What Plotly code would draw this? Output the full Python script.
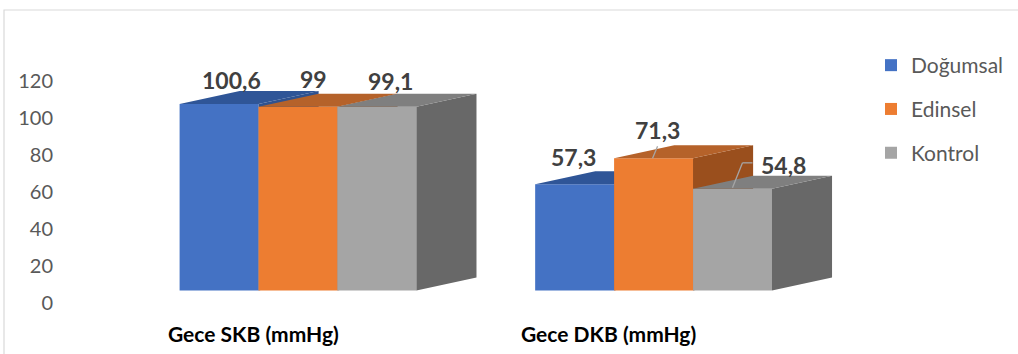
import plotly.graph_objects as go

# --- data -------------------------------------------------------------
categories = ["Gece SKB (mmHg)", "Gece DKB (mmHg)"]
series_names = ["Doğumsal", "Edinsel", "Kontrol"]
dogumsal = [100.6, 57.3]
edinsel = [99.0, 71.3]
kontrol = [99.1, 54.8]
y_ticks = [0, 20, 40, 60, 80, 100, 120]

series_values = [dogumsal, edinsel, kontrol]

# --- styling ----------------------------------------------------------
FONT = "Lato"
front_colors = ["#4472C4", "#ED7D31", "#A5A5A5"]
top_colors = ["#2F5597", "#B5622A", "#7F7F7F"]
side_colors = ["#2F528F", "#9A4F1D", "#686868"]

BAR_W = 0.222      # width of one bar (category units)
DEPTH_X = 0.169    # horizontal shift of the back face
DEPTH_Y = 7.0      # vertical shift of the back face (value units)

X_RANGE = [-0.675, 2.025]
TICK_RANGE = [-27.96, 164.22]
BAR_RANGE = [-34.23, 156.6]


def fmt(v):
    return f"{v:g}".replace(".", ",")


fig = go.Figure()
xs = list(range(len(categories)))

# value axis (carries the tick labels only)
fig.add_trace(go.Scatter(x=[], y=[], xaxis="x", yaxis="y",
                         showlegend=False, hoverinfo="skip"))

for k, (name, vals) in enumerate(zip(series_names, series_values)):
    xa, ya = f"x{k + 2}", f"y{k + 2}"
    off = (k - 1.5) * BAR_W

    # front faces
    fig.add_trace(go.Bar(
        x=xs, y=vals, width=BAR_W, offset=off, name=name, legendgroup=name,
        marker=dict(color=front_colors[k], line=dict(width=0)),
        xaxis=xa, yaxis=ya, hoverinfo="skip",
    ))

    # right-hand side faces and top faces of the blocks
    sx, sy, tx, ty = [], [], [], []
    for xi, v in zip(xs, vals):
        xl = xi + off
        xr = xl + BAR_W
        sx += [xr, xr + DEPTH_X, xr + DEPTH_X, xr, xr, None]
        sy += [0, DEPTH_Y, v + DEPTH_Y, v, 0, None]
        tx += [xl, xr, xr + DEPTH_X, xl + DEPTH_X, xl, None]
        ty += [v, v, v + DEPTH_Y, v + DEPTH_Y, v, None]
    fig.add_trace(go.Scatter(
        x=sx, y=sy, fill="toself", fillcolor=side_colors[k], mode="lines",
        line=dict(width=0, color=side_colors[k]), showlegend=False,
        xaxis=xa, yaxis=ya, hoverinfo="skip",
    ))
    fig.add_trace(go.Scatter(
        x=tx, y=ty, fill="toself", fillcolor=top_colors[k], mode="lines",
        line=dict(width=0, color=top_colors[k]), showlegend=False,
        xaxis=xa, yaxis=ya, hoverinfo="skip",
    ))

# --- value labels -----------------------------------------------------
label_shift = {
    (0, 0): (12, 24), (0, 1): (15, 28), (0, 2): (14, 26),
    (1, 0): (-1, 27), (1, 1): (4, 28), (1, 2): (51, 24),
}
annotations = []
shapes = []
for k, vals in enumerate(series_values):
    off = (k - 1.5) * BAR_W
    for i, v in enumerate(vals):
        cx = xs[i] + off + BAR_W / 2
        dxp, dyp = label_shift[(i, k)]
        annotations.append(dict(
            x=cx, y=v, xref=f"x{k + 2}", yref=f"y{k + 2}", text=fmt(v),
            showarrow=False, xshift=dxp, yshift=dyp,
            xanchor="center", yanchor="middle",
            font=dict(family=FONT, size=23, color="#404040", weight="bold"),
        ))

# leader lines for the labels that sit away from their bars
leader = dict(color="#A6A6A6", width=1.3)
for (i, k, pts) in [
    (1, 1, [(-1, 0), (4, 12)]),
    (1, 2, [(0, 1), (10, 26), (20, 26)]),
]:
    off = (k - 1.5) * BAR_W
    cx = xs[i] + off + BAR_W / 2
    v = series_values[k][i]
    for (p0, p1) in zip(pts[:-1], pts[1:]):
        shapes.append(dict(
            type="line", xref=f"x{k + 2}", yref=f"y{k + 2}",
            xsizemode="pixel", ysizemode="pixel", xanchor=cx, yanchor=v,
            x0=p0[0], y0=p0[1], x1=p1[0], y1=p1[1], line=leader,
        ))

# category labels under each block group
for i, cat in enumerate(categories):
    annotations.append(dict(
        x=xs[i], y=1 - 333 / 354, xref="x2", yref="paper", text=cat,
        showarrow=False, xshift=-45, xanchor="center", yanchor="middle",
        font=dict(family=FONT, size=21, color="#000000", weight="bold"),
    ))

# chart frame
shapes.append(dict(
    type="rect", xref="paper", yref="paper",
    x0=-54 / 960, x1=1.5, y0=-0.5, y1=1 - 10 / 354,
    line=dict(color="#D9D9D9", width=1.2), fillcolor="rgba(0,0,0,0)",
    layer="below",
))

hidden = dict(visible=False, showgrid=False, zeroline=False, fixedrange=True)
layout_axes = dict(
    xaxis=dict(range=X_RANGE, **hidden),
    yaxis=dict(range=TICK_RANGE, tickvals=y_ticks, showgrid=False,
               zeroline=False, showline=False, ticks="", fixedrange=True,
               ticklabelstandoff=4,
               tickfont=dict(family=FONT, size=20, color="#595959")),
)
for k in range(len(series_names)):
    layout_axes[f"xaxis{k + 2}"] = dict(range=X_RANGE, overlaying="x", **hidden)
    layout_axes[f"yaxis{k + 2}"] = dict(range=BAR_RANGE, overlaying="y", **hidden)

fig.update_layout(
    width=1018, height=354,
    margin=dict(l=58, r=0, t=0, b=0),
    paper_bgcolor="white", plot_bgcolor="rgba(0,0,0,0)",
    barmode="overlay",
    showlegend=True,
    legend=dict(
        x=(871 - 58) / 960, y=1 - 45 / 354, xanchor="left", yanchor="top",
        font=dict(family=FONT, size=21, color="#595959"),
        tracegroupgap=13.5, traceorder="grouped",
        bgcolor="rgba(0,0,0,0)",
    ),
    annotations=annotations,
    shapes=shapes,
    **layout_axes,
)

fig.write_html("out.html")
